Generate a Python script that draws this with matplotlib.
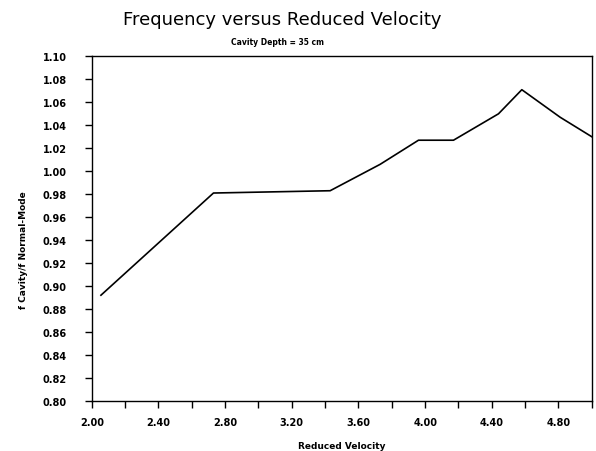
import matplotlib

matplotlib.use("Agg")
import matplotlib.pyplot as plt
from matplotlib.ticker import FormatStrFormatter, MultipleLocator

# values
velocity = [2.055, 2.73, 3.43, 3.73, 3.96, 4.17, 4.44, 4.58, 4.81, 5.00]
freq_ratio = [0.892, 0.981, 0.983, 1.006, 1.027, 1.027, 1.050, 1.071, 1.047, 1.030]

title = "Frequency versus Reduced Velocity"
subtitle = "Cavity Depth = 35 cm"
xlabel = "Reduced Velocity"
ylabel = "f Cavity/f Normal-Mode"

fig = plt.figure(figsize=(5.96, 4.52), dpi=100)
ax = fig.add_axes([0.154, 0.111, 0.839, 0.762])

ax.plot(velocity, freq_ratio, color="black", linewidth=1.2)

ax.set_xlim(2.0, 5.0)
ax.set_ylim(0.80, 1.10)
ax.xaxis.set_major_locator(MultipleLocator(0.4))
ax.xaxis.set_minor_locator(MultipleLocator(0.2))
ax.yaxis.set_major_locator(MultipleLocator(0.02))
ax.xaxis.set_major_formatter(FormatStrFormatter("%.2f"))
ax.yaxis.set_major_formatter(FormatStrFormatter("%.2f"))

ax.tick_params(axis="both", which="both", direction="out", color="black", width=1.0)
ax.tick_params(axis="x", which="major", length=5, pad=7, labelsize=7)
ax.tick_params(axis="x", which="minor", length=5)
ax.tick_params(axis="y", which="major", length=5, pad=13, labelsize=7)
for lbl in ax.get_xticklabels() + ax.get_yticklabels():
    lbl.set_fontweight("bold")

for sp in ax.spines.values():
    sp.set_color("black")
    sp.set_linewidth(1.0)

ax.set_xlabel(xlabel, fontsize=6.5, fontweight="bold", labelpad=10)
ax.set_ylabel(ylabel, fontsize=6.5, fontweight="bold")
ax.yaxis.set_label_coords(-0.127, 0.44)

fig.text(0.473, 0.955, title, ha="center", va="center", fontsize=13)
fig.text(0.465, 0.907, subtitle, ha="center", va="center", fontsize=5.5,
         fontweight="bold")

fig.savefig("out.png", dpi=100)
